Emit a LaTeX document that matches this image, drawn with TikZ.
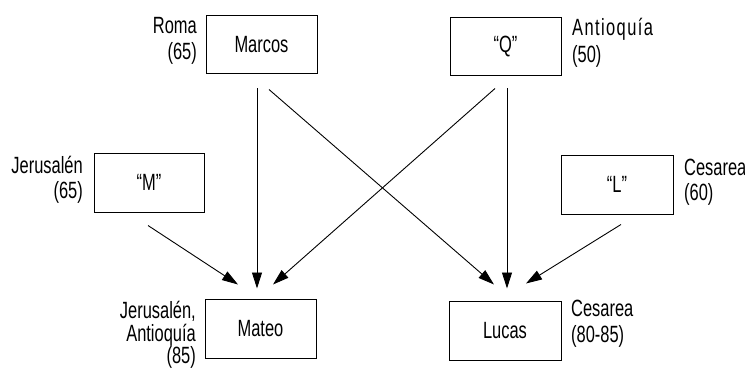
\documentclass[tikz,border=0pt]{standalone}
\usepackage{fontspec}
\setmainfont{Liberation Sans}[FakeStretch=0.70]
\usetikzlibrary{arrows.meta,calc}
\begin{document}
\begin{tikzpicture}[x=1pt,y=-1pt,
  gbox/.style={draw,line width=1pt,minimum width=111pt,minimum height=58pt,inner sep=0pt,font=\fontsize{23.5}{25}\selectfont},
  lbl/.style={inner sep=0pt,font=\fontsize{23.5}{25}\selectfont},
  lr/.style={lbl,anchor=base east},
  ll/.style={lbl,anchor=base west},
  arr/.style={line width=0.9pt,-{Triangle[length=16pt,width=10pt]}}]
\useasboundingbox (0,0) rectangle (745,369);
\fill[white] (0,0) rectangle (745,369);
% boxes
\node[gbox] (Marcos) at (261.5,45) {Marcos};
\node[gbox] (Q) at (505.5,47) {“Q”};
\node[gbox,minimum width=110pt,minimum height=59pt] (M) at (149,182.5) {“M”};
\node[gbox,minimum width=112pt,minimum height=59pt] (L) at (617,184.5) {“L”};
\node[gbox,minimum height=59pt] (Mateo) at (260.5,328.5) {Mateo};
\node[gbox,minimum width=112pt,minimum height=59pt] (Lucas) at (505,330.5) {Lucas};
% labels
\node[lr] (lRoma1) at (197,34) {Roma};
\node[lr] (lRoma2) at (197,60) {(65)};
\node[ll] (lAnt1) at (572,36) {\addfontfeatures{LetterSpace=6}Antioquía};
\node[ll] (lAnt2) at (572,63) {(50)};
\node[lr] (lJer1) at (83,173) {Jerusalén};
\node[lr] (lJer2) at (83,198) {(65)};
\node[ll] (lCes1) at (684,175) {Cesarea};
\node[ll] (lCes2) at (684,200) {(60)};
\node[lr] (lMat1) at (196,318) {Jerusalén,};
\node[lr] (lMat2) at (196,341) {Antioquía};
\node[lr] (lMat3) at (196,363) {(85)};
\node[ll] (lLuc1) at (571,316) {Cesarea};
\node[ll] (lLuc2) at (571,342) {(80-85)};
% arrows
\draw[arr] ($(Marcos.south)+(-4.5,14)$) -- ($(Mateo.north)+(-3.5,-10)$);
\draw[arr] ($(Marcos.south)+(7.5,15)$) -- ($(Lucas.north)+(-11,-16)$);
\draw[arr] ($(Q.south)+(-10.5,12)$) -- ($(Mateo.north)+(12.5,-14)$);
\draw[arr] ($(Q.south)+(1.5,12)$) -- ($(Lucas.north)+(2,-12)$);
\draw[arr] ($(M.south)+(-1,13)$) -- ($(Mateo.north)+(-22.5,-14)$);
\draw[arr] ($(L.south)+(4,10)$) -- ($(Lucas.north)+(21,-17)$);
\end{tikzpicture}
\end{document}
